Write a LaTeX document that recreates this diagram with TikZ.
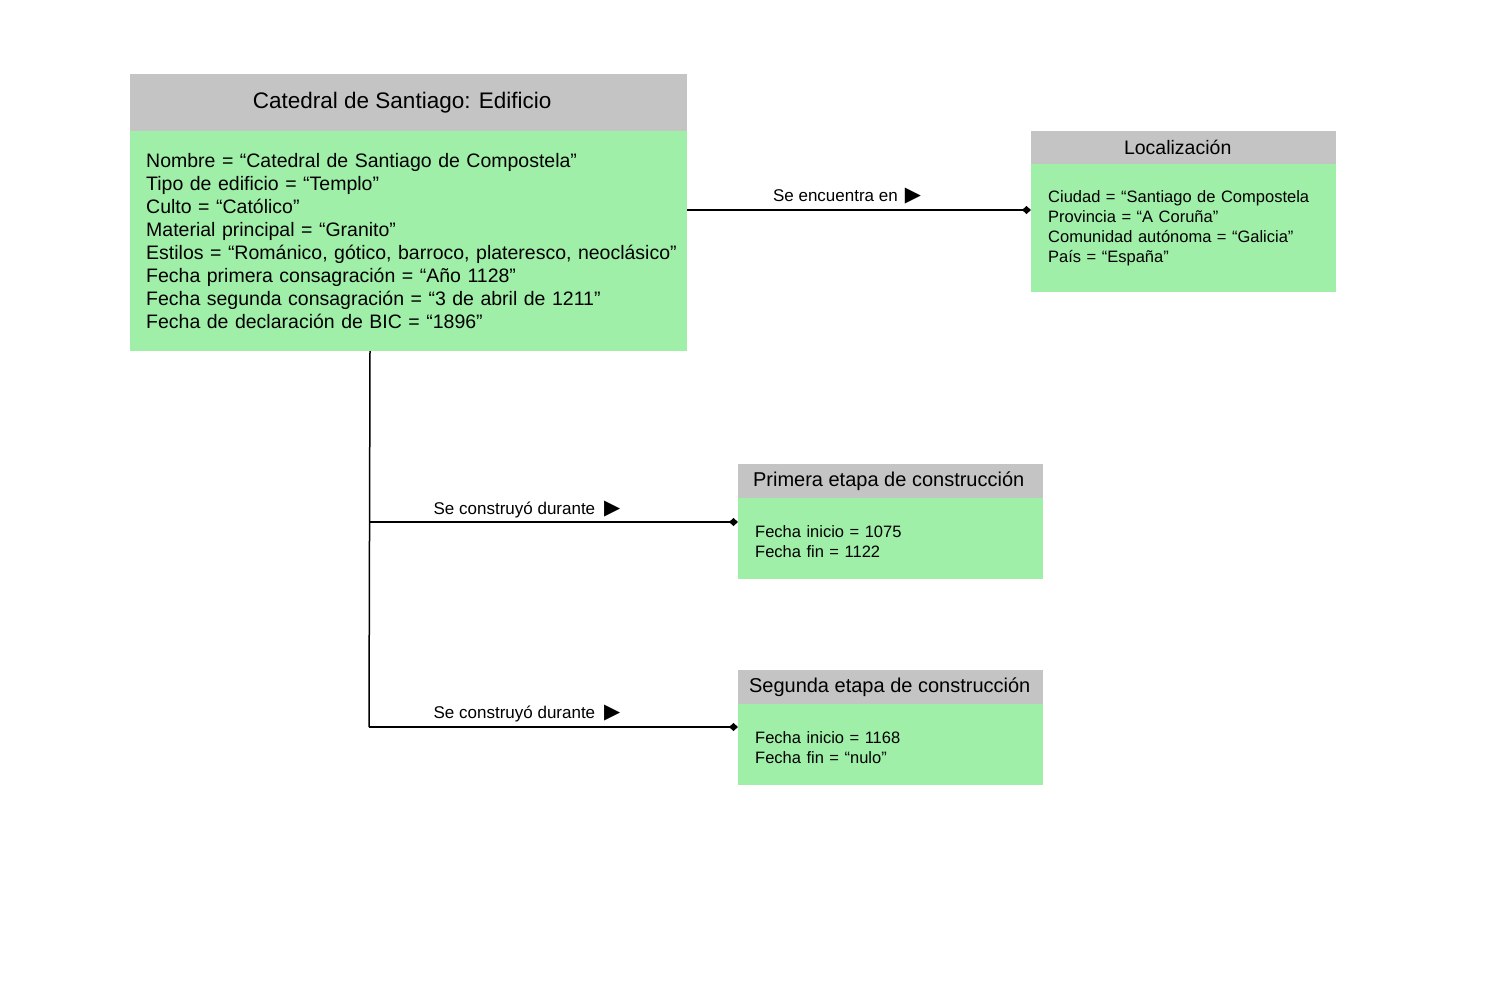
\documentclass[tikz,border=0pt]{standalone}
\usepackage{fontspec}
\setmainfont{Liberation Sans}
\newfontfamily\symfont{DejaVu Sans}
\usetikzlibrary{arrows.meta,calc}
\definecolor{hdrgray}{RGB}{196,196,196}
\definecolor{bodygreen}{RGB}{160,239,168}
\tikzset{
  hdr/.style={fill=hdrgray, draw=none, inner sep=0pt, anchor=north west, align=center},
  body/.style={fill=bodygreen, draw=none, inner xsep=16pt, inner ysep=0pt, anchor=north west, align=left},
  conn/.style={line width=1.5pt, -{Diamond[length=9pt,width=8pt]}},
  trunk/.style={line width=1.5pt},
  lbl/.style={inner sep=0pt, font=\fontsize{17}{20}\selectfont}
}
\newcommand{\tri}{{\symfont\fontsize{21}{20}\selectfont ▶}}
\newcommand{\topstrut}{\raisebox{0pt}[17pt][0pt]{}}
\begin{document}
\begin{tikzpicture}[x=1pt,y=-1pt]
\useasboundingbox (0,0) rectangle (1498,994);
% main class
\node[hdr, minimum width=557pt, minimum height=57pt, font=\fontsize{22.5}{26}\selectfont] (mainH) at (130,74) {Catedral de Santiago: Edificio\hspace{13pt}};
\node[body, text width=525pt, minimum height=220pt, font=\fontsize{19.5}{23}\selectfont] (mainB) at (130,131) {Nombre = “Catedral de Santiago de Compostela”\\
Tipo de edificio = “Templo”\\
Culto = “Católico”\\
Material principal = “Granito”\\
\mbox{Estilos = “Románico, gótico, barroco, plateresco, neoclásico”}\\
Fecha primera consagración = “Año 1128”\\
Fecha segunda consagración = “3 de abril de 1211”\\
Fecha de declaración de BIC = “1896”};
% Localizacion
\node[hdr, minimum width=305pt, minimum height=33pt, font=\fontsize{19.5}{22}\selectfont] (locH) at (1031,131) {Localización\hspace{12pt}};
\node[body, inner xsep=17pt, text width=271pt, minimum height=128pt, font=\fontsize{16.5}{20}\selectfont] (locB) at (1031,164) {Ciudad = “Santiago de Compostela\\
Provincia = “A Coruña”\\
Comunidad autónoma = “Galicia”\\
País = “España”};
% Primera
\node[hdr, minimum width=305pt, minimum height=34pt, font=\fontsize{20}{22}\selectfont] (p1H) at (738,464) {Primera etapa de construcción\hspace{4pt}};
\node[body, inner xsep=17pt, text width=271pt, minimum height=81pt, font=\fontsize{16.5}{20}\selectfont] (p1B) at (738,498) {\topstrut Fecha inicio = 1075\\
Fecha fin = 1122};
% Segunda
\node[hdr, minimum width=305pt, minimum height=34pt, font=\fontsize{20}{22}\selectfont] (p2H) at (738,670) {Segunda etapa de construcción\hspace{2pt}};
\node[body, inner xsep=17pt, text width=271pt, minimum height=81pt, font=\fontsize{16.5}{20}\selectfont] (p2B) at (738,704) {\topstrut Fecha inicio = 1168\\
Fecha fin = “nulo”};
% connectors
\coordinate (r1) at (0,210);
\coordinate (tTop) at (370,351);
\coordinate (tBot) at (369,727);
\coordinate (tMid) at (369.5,522);
\draw[conn] (mainB.east |- r1) -- (locB.west |- r1);
\draw[trunk] (tTop) -- (tBot);
\draw[conn] (tMid) -- (p1B.west |- tMid);
\draw[conn] (tBot) -- (p2B.west |- tBot);
% labels
\node[lbl] (l1) at (847,196) {Se encuentra en\hspace{7pt}\tri};
\node[lbl] (l2) at (527,510) {Se construyó durante\hspace{9pt}\tri};
\node[lbl] (l3) at (527,714) {Se construyó durante\hspace{9pt}\tri};
\end{tikzpicture}
\end{document}
